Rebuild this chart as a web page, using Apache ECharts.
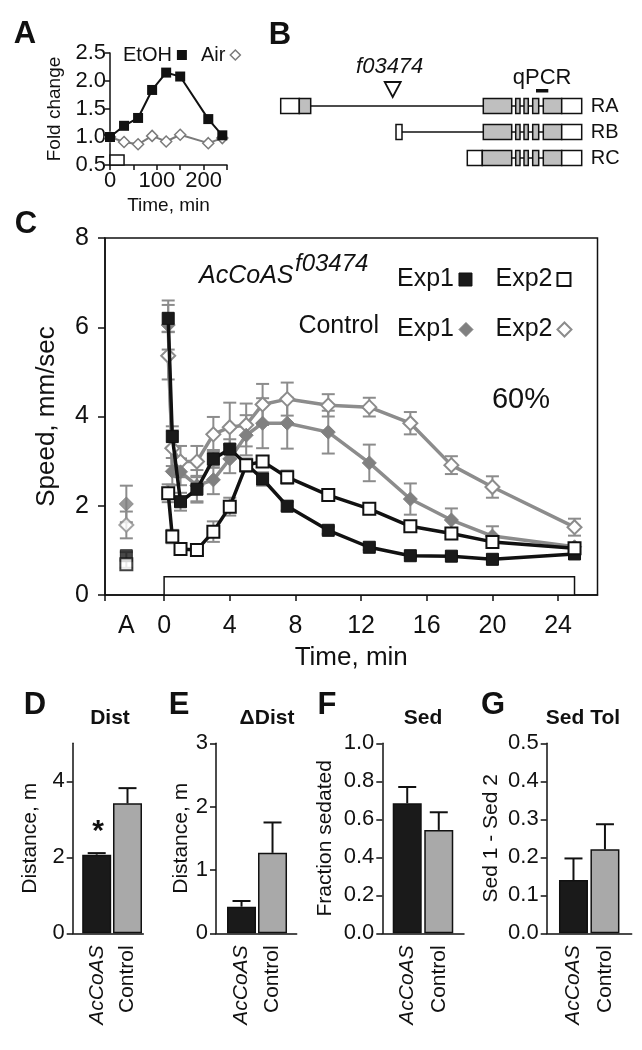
<!DOCTYPE html>
<html><head><meta charset="utf-8">
<script src="https://cdn.jsdelivr.net/npm/echarts@6/dist/echarts.min.js"></script>
<style>html,body{margin:0;padding:0;background:#fff}#c{width:642px;height:1050px}</style>
</head><body><div id="c"></div>
<script>
// ---------- DATA ----------
// Panel A
const aTime = [0, 30, 60, 90, 120, 150, 210, 240];
const aEtOH = [1.00, 1.20, 1.34, 1.84, 2.15, 2.08, 1.32, 1.03];
const aAir  = [1.00, 0.91, 0.87, 1.02, 0.92, 1.04, 0.89, 0.98];
const aExposure = [0, 30, 0.5, 0.68];   // start, end (min), bottom, top (fold)
const aXTicks = [0, 50, 100, 150, 200, 250];
const aXLabels = [0, 100, 200];

// Panel B (gene model, arbitrary genomic units)
const geneRows = ['RA', 'RB', 'RC'];
const geneExons = [ // [row, start, end, kind] kind 0 = UTR, 1 = coding
  [0, 0, 18.6, 0], [0, 18.6, 30, 1],
  [0, 202.6, 231, 1], [0, 235, 239.3, 1], [0, 243.3, 247.6, 1], [0, 252, 258, 1], [0, 262.6, 281, 1], [0, 281, 301, 0],
  [1, 115.3, 121.3, 0],
  [1, 202.6, 231, 1], [1, 235, 239.3, 1], [1, 243.3, 247.6, 1], [1, 252, 258, 1], [1, 262.6, 281, 1], [1, 281, 301, 0],
  [2, 186.6, 201.6, 0], [2, 201.6, 231, 1], [2, 235, 239.3, 1], [2, 243.3, 247.6, 1], [2, 252, 258, 1], [2, 262.6, 281, 1], [2, 281, 301, 0]
];
const geneIntrons = [[0, 30, 301], [1, 121.3, 301], [2, 201.6, 301]];
const insertionPos = 112;       // f03474
const qpcrAmplicon = [255.3, 267.6];

// Panel C
const cAPos = -2.3;
const cXTicks = [-3.6, 0, 4, 8, 12, 16, 20, 24];
const cXLabels = [-2.3, 0, 4, 8, 12, 16, 20, 24];
const cTimeMutExp1 = [0.25, 0.5, 1, 2, 3, 4, 6, 7.5, 10, 12.5, 15, 17.5, 20, 25];
const cMutExp1 = [6.2, 3.55, 2.09, 2.37, 3.05, 3.27, 2.60, 1.99, 1.45, 1.07, 0.88, 0.87, 0.80, 0.92];
const cMutExp1Err = [0.3, 0.23, 0.2, 0.3, 0.2, 0.22, 0.15, 0.1, 0.08, 0.06, 0.05, 0.05, 0.05, 0.05];
const cTime = [0.25, 0.5, 1, 2, 3, 4, 5, 6, 7.5, 10, 12.5, 15, 17.5, 20, 25];
const cMutExp2 = [2.28, 1.31, 1.03, 1.01, 1.42, 1.98, 2.91, 2.99, 2.64, 2.24, 1.93, 1.54, 1.38, 1.19, 1.05];
const cMutExp2Err = [0.2, 0.15, 0.1, 0.1, 0.23, 0.2, 0.15, 0.12, 0.15, 0.1, 0.1, 0.08, 0.06, 0.06, 0.05];
const cCtlExp1 = [6.05, 2.77, 2.76, 2.45, 2.58, 3.05, 3.58, 3.85, 3.85, 3.65, 2.96, 2.15, 1.68, 1.32, 1.08];
const cCtlExp1Err = [0.55, 0.3, 0.3, 0.35, 0.32, 0.32, 0.45, 0.56, 0.57, 0.48, 0.41, 0.35, 0.26, 0.22, 0.08];
const cCtlExp2 = [5.36, 3.29, 2.99, 2.99, 3.60, 3.76, 3.81, 4.27, 4.39, 4.25, 4.21, 3.85, 2.91, 2.42, 1.52];
const cCtlExp2Err = [0.53, 0.4, 0.35, 0.35, 0.39, 0.55, 0.48, 0.46, 0.37, 0.25, 0.21, 0.25, 0.2, 0.24, 0.19];
const cAValues = { mutExp1: [0.88, 0.08], mutExp2: [0.69, 0.08], ctlExp1: [2.04, 0.41], ctlExp2: [1.57, 0.30] };
const cExposure = [0, 25, 0.41];  // start, end (min), height

// Panels D-G
const barCats = ['AcCoAS', 'Control'];
const dDist = [2.07, 3.42], dDistErr = [0.04, 0.40];
const eDeltaDist = [0.42, 1.27], eDeltaDistErr = [0.09, 0.48];
const fSed = [0.684, 0.544], fSedErr = [0.086, 0.093];
const gSedTol = [0.14, 0.221], gSedTolErr = [0.057, 0.066];
const dTicks = [0, 2, 4];

// ---------- STYLE ----------
const FONT = "'Liberation Sans', Arial, sans-serif";
const INK = '#111';
const CGRAY = '#8c8c8c';
const AGRAY = '#7a7a7a';
const BARGRAY = '#a9a9a9';

const chart = echarts.init(document.getElementById('c'));

function zip(xs, ys) { return xs.map((x, i) => [x, ys[i]]); }
function zip3(xs, ys, es) { return xs.map((x, i) => [x, ys[i], es[i]]); }

function errRender(capHalf, color, lw, upOnly) {
  return function (params, api) {
    const x = api.value(0), y = api.value(1), e = api.value(2);
    const top = api.coord([x, y + e]);
    const bot = api.coord([x, upOnly ? y : y - e]);
    const st = { stroke: color, lineWidth: lw, fill: null };
    const ch = [
      { type: 'line', shape: { x1: top[0], y1: top[1], x2: bot[0], y2: bot[1] }, style: st },
      { type: 'line', shape: { x1: top[0] - capHalf, y1: top[1], x2: top[0] + capHalf, y2: top[1] }, style: st }
    ];
    if (!upOnly) ch.push({ type: 'line', shape: { x1: bot[0] - capHalf, y1: bot[1], x2: bot[0] + capHalf, y2: bot[1] }, style: st });
    return { type: 'group', children: ch };
  };
}

const axisLineStyle = { onZero: false, lineStyle: { color: INK, width: 1.5 } };
const tickStyle = { lineStyle: { color: INK, width: 1.5 } };

// ---------- GRIDS ----------
const grids = [
  { left: 110, top: 53, width: 117, height: 112 },                 // A
  { left: 280.7, top: 93, width: 305, height: 78 },                // B
  { left: 105, top: 238, width: 492.5, height: 357, show: true, borderColor: INK, borderWidth: 1.5 }, // C
  { left: 72.7, top: 743.3, width: 70.6, height: 190 },            // D
  { left: 216, top: 743.3, width: 80.7, height: 190 },             // E
  { left: 382.3, top: 743.3, width: 81.7, height: 190 },           // F
  { left: 546.7, top: 743.3, width: 85, height: 190 }              // G
];

const catLabel = {
  customValues: [1, 2], rotate: 90, margin: 12, color: INK, fontSize: 21, fontFamily: FONT,
  formatter: v => { const n = barCats[Math.round(v) - 1]; return n === 'AcCoAS' ? '{i|' + n + '}' : n; },
  rich: { i: { fontStyle: 'italic', fontSize: 21, fontFamily: FONT, color: INK } }
};
function barX(gi, min, max) {
  return { gridIndex: gi, type: 'value', min, max, axisLine: axisLineStyle, axisTick: { show: false },
    splitLine: { show: false }, axisLabel: catLabel };
}
function barY(gi, max, ticks, name, fmt, nameGap) {
  return { gridIndex: gi, type: 'value', min: 0, max, axisLine: { show: true, ...axisLineStyle },
    axisTick: { show: true, length: 6, customValues: ticks, ...tickStyle },
    axisLabel: { customValues: ticks, formatter: fmt, color: INK, fontSize: 22, fontFamily: FONT, margin: 8 },
    splitLine: { show: false }, name, nameLocation: 'middle', nameGap,
    nameTextStyle: { color: INK, fontSize: 21, fontFamily: FONT } };
}
const f1 = v => v.toFixed(1);
const f0 = v => String(Math.round(v));

const xAxis = [
  { gridIndex: 0, type: 'value', min: 0, max: 250, axisLine: axisLineStyle,
    axisTick: { length: 5, customValues: aXTicks, ...tickStyle },
    axisLabel: { customValues: aXLabels, color: INK, fontSize: 22, fontFamily: FONT, margin: 5 },
    splitLine: { show: false }, name: 'Time, min', nameLocation: 'middle', nameGap: 31,
    nameTextStyle: { color: INK, fontSize: 19, fontFamily: FONT } },
  { gridIndex: 1, type: 'value', min: 0, max: 305, show: false },
  { gridIndex: 2, type: 'value', min: -3.6, max: 26.4, axisLine: axisLineStyle,
    axisTick: { length: 6, customValues: cXTicks, ...tickStyle },
    axisLabel: { customValues: cXLabels, formatter: v => (v < 0 ? 'A' : String(v)), color: INK, fontSize: 25, fontFamily: FONT, margin: 19 },
    splitLine: { show: false }, name: 'Time, min', nameLocation: 'middle', nameGap: 50,
    nameTextStyle: { color: INK, fontSize: 26, fontFamily: FONT } },
  barX(3, 0.221, 2.513),
  barX(4, 0.177, 2.78),
  barX(5, 0.21, 2.80),
  barX(6, 0.149, 2.85)
];
const yAxis = [
  { gridIndex: 0, type: 'value', min: 0.5, max: 2.5, interval: 0.5, axisLine: { show: true, ...axisLineStyle },
    axisTick: { length: 5, ...tickStyle },
    axisLabel: { formatter: f1, color: INK, fontSize: 22, fontFamily: FONT, margin: 4 },
    splitLine: { show: false }, name: 'Fold change', nameLocation: 'middle', nameGap: 46,
    nameTextStyle: { color: INK, fontSize: 19, fontFamily: FONT } },
  { gridIndex: 1, type: 'category', data: geneRows, inverse: true, position: 'right',
    axisLine: { show: false }, axisTick: { show: false }, splitLine: { show: false },
    axisLabel: { interval: 0, color: INK, fontSize: 20, fontFamily: FONT, margin: 5 } },
  { gridIndex: 2, type: 'value', min: 0, max: 8, interval: 2, axisLine: { show: true, ...axisLineStyle },
    axisTick: { length: 7, ...tickStyle },
    axisLabel: { color: INK, fontSize: 25, fontFamily: FONT, margin: 16 },
    splitLine: { show: false }, name: 'Speed, mm/sec', nameLocation: 'middle', nameGap: 45,
    nameTextStyle: { color: INK, fontSize: 26, fontFamily: FONT } },
  barY(3, 5, dTicks, 'Distance, m', f0, 32),
  barY(4, 3, [0, 1, 2, 3], 'Distance, m', f0, 24),
  barY(5, 1, [0, 0.2, 0.4, 0.6, 0.8, 1.0], 'Fraction sedated', f1, 47),
  barY(6, 0.5, [0, 0.1, 0.2, 0.3, 0.4, 0.5], 'Sed 1 - Sed 2', f1, 45)
];

// ---------- SERIES ----------
const series = [];
// Panel A
series.push({ type: 'custom', xAxisIndex: 0, yAxisIndex: 0, z: 1, silent: true,
  data: [aExposure],
  renderItem: (p, api) => {
    const a = api.coord([api.value(0), api.value(3)]);
    const b = api.coord([api.value(1), api.value(2)]);
    return { type: 'rect', shape: { x: a[0], y: a[1], width: b[0] - a[0], height: b[1] - a[1] },
      style: { fill: '#fff', stroke: INK, lineWidth: 1.5 } };
  } });
series.push({ name: 'EtOH', type: 'line', xAxisIndex: 0, yAxisIndex: 0, data: zip(aTime, aEtOH), z: 4,
  symbol: 'rect', symbolSize: 10, lineStyle: { color: INK, width: 2 }, itemStyle: { color: INK } });
series.push({ name: 'Air', type: 'line', xAxisIndex: 0, yAxisIndex: 0, data: zip(aTime, aAir), z: 3,
  symbol: 'diamond', symbolSize: 11, lineStyle: { color: AGRAY, width: 2 },
  itemStyle: { color: '#fff', borderColor: AGRAY, borderWidth: 1.5 } });

// Panel B
series.push({ type: 'custom', xAxisIndex: 1, yAxisIndex: 1, z: 1, silent: true,
  data: geneIntrons, encode: { x: [1, 2], y: 0 },
  renderItem: (p, api) => {
    const s = api.coord([api.value(1), api.value(0)]);
    const e = api.coord([api.value(2), api.value(0)]);
    return { type: 'line', shape: { x1: s[0], y1: s[1], x2: e[0], y2: e[1] }, style: { stroke: INK, lineWidth: 1.5 } };
  } });
series.push({ type: 'custom', xAxisIndex: 1, yAxisIndex: 1, z: 2, silent: true,
  data: geneExons, encode: { x: [1, 2], y: 0 },
  renderItem: (p, api) => {
    const s = api.coord([api.value(1), api.value(0)]);
    const e = api.coord([api.value(2), api.value(0)]);
    const h = 15;
    return { type: 'rect', shape: { x: s[0], y: s[1] - h / 2, width: e[0] - s[0], height: h },
      style: { fill: api.value(3) ? '#bfbfbf' : '#fff', stroke: INK, lineWidth: 1.5 } };
  } });
series.push({ type: 'custom', xAxisIndex: 1, yAxisIndex: 1, z: 2, silent: true,
  data: [[insertionPos, 0]],
  renderItem: (p, api) => {
    const c = api.coord([api.value(0), api.value(1)]);
    return { type: 'group', children: [
      { type: 'polygon', shape: { points: [[c[0] - 8, c[1] - 24], [c[0] + 8, c[1] - 24], [c[0], c[1] - 9]] },
        style: { fill: '#fff', stroke: INK, lineWidth: 1.8 } },
      { type: 'text', style: { text: 'f03474', x: c[0] - 3, y: c[1] - 39, textAlign: 'center', textVerticalAlign: 'middle',
        fontSize: 22, fontStyle: 'italic', fontFamily: FONT, fill: INK } }
    ] };
  } });
series.push({ type: 'custom', xAxisIndex: 1, yAxisIndex: 1, z: 2, silent: true,
  data: [[qpcrAmplicon[0], qpcrAmplicon[1], 0]], encode: { x: [0, 1], y: 2 },
  renderItem: (p, api) => {
    const s = api.coord([api.value(0), api.value(2)]);
    const e = api.coord([api.value(1), api.value(2)]);
    return { type: 'group', children: [
      { type: 'rect', shape: { x: s[0], y: s[1] - 17, width: e[0] - s[0], height: 3.5 }, style: { fill: INK } },
      { type: 'text', style: { text: 'qPCR', x: (s[0] + e[0]) / 2, y: s[1] - 28, textAlign: 'center', textVerticalAlign: 'middle',
        fontSize: 22, fontFamily: FONT, fill: INK } }
    ] };
  } });

// Panel C
series.push({ type: 'custom', xAxisIndex: 2, yAxisIndex: 2, z: 1, silent: true,
  data: [cExposure],
  renderItem: (p, api) => {
    const a = api.coord([api.value(0), api.value(2)]);
    const b = api.coord([api.value(1), 0]);
    return { type: 'rect', shape: { x: a[0], y: a[1], width: b[0] - a[0], height: b[1] - a[1] },
      style: { fill: '#fff', stroke: INK, lineWidth: 1.5 } };
  } });
const errC = errRender(6.5, CGRAY, 2, false);
function addErr(times, vals, errs, z) {
  series.push({ type: 'custom', xAxisIndex: 2, yAxisIndex: 2, z, silent: true,
    data: zip3(times, vals, errs), renderItem: errC });
}
addErr(cTime, cCtlExp2, cCtlExp2Err, 2);
addErr(cTime, cCtlExp1, cCtlExp1Err, 2);
addErr(cTime, cMutExp2, cMutExp2Err, 2);
addErr(cTimeMutExp1, cMutExp1, cMutExp1Err, 2);
addErr([cAPos, cAPos, cAPos, cAPos],
  [cAValues.ctlExp1[0], cAValues.ctlExp2[0], cAValues.mutExp1[0], cAValues.mutExp2[0]],
  [cAValues.ctlExp1[1], cAValues.ctlExp2[1], cAValues.mutExp1[1], cAValues.mutExp2[1]], 2);

const sty = {
  'Control Exp2': { symbol: 'diamond', size: 14, line: CGRAY, item: { color: '#fff', borderColor: CGRAY, borderWidth: 2 } },
  'Control Exp1': { symbol: 'diamond', size: 14, line: CGRAY, item: { color: '#808080', borderColor: '#808080', borderWidth: 1 } },
  'AcCoAS Exp2': { symbol: 'rect', size: 12, line: INK, item: { color: '#fff', borderColor: INK, borderWidth: 2 } },
  'AcCoAS Exp1': { symbol: 'rect', size: 12, line: INK, item: { color: '#1a1a1a', borderColor: INK, borderWidth: 1 } }
};
function addLine(name, times, vals, aVal, z) {
  const s = sty[name];
  series.push({ name, type: 'line', xAxisIndex: 2, yAxisIndex: 2, z, data: zip(times, vals),
    symbol: s.symbol, symbolSize: s.size, showAllSymbol: true,
    lineStyle: { color: s.line, width: 3.5 }, itemStyle: s.item });
  series.push({ type: 'scatter', xAxisIndex: 2, yAxisIndex: 2, z, data: [[cAPos, aVal]],
    symbol: s.symbol, symbolSize: s.size, itemStyle: s.item, silent: true });
}
addLine('Control Exp2', cTime, cCtlExp2, cAValues.ctlExp2[0], 3);
addLine('Control Exp1', cTime, cCtlExp1, cAValues.ctlExp1[0], 3);
addLine('AcCoAS Exp1', cTimeMutExp1, cMutExp1, cAValues.mutExp1[0], 4);
addLine('AcCoAS Exp2', cTime, cMutExp2, cAValues.mutExp2[0], 5);

// Panels D-G
const errBar = errRender(9, INK, 2, true);
function addBars(gi, vals, errs) {
  series.push({ type: 'bar', xAxisIndex: gi, yAxisIndex: gi, barWidth: 29, z: 2,
    data: [
      { value: [1, vals[0]], itemStyle: { color: '#1a1a1a' } },
      { value: [2, vals[1]], itemStyle: { color: BARGRAY } }
    ],
    itemStyle: { borderColor: INK, borderWidth: 1.5 } });
  series.push({ type: 'custom', xAxisIndex: gi, yAxisIndex: gi, z: 3, silent: true,
    data: [[1, vals[0], errs[0]], [2, vals[1], errs[1]]], renderItem: errBar });
}
addBars(3, dDist, dDistErr);
addBars(4, eDeltaDist, eDeltaDistErr);
addBars(5, fSed, fSedErr);
addBars(6, gSedTol, gSedTolErr);

// ---------- LEGENDS ----------
const legendText = { color: INK, fontFamily: FONT };
const legend = [
  { left: 118, top: 40, align: 'right', orient: 'horizontal', itemWidth: 10, itemHeight: 10, itemGap: 14,
    selectedMode: false, textStyle: { ...legendText, fontSize: 20 },
    data: [
      { name: 'EtOH', icon: 'rect', itemStyle: { color: INK, borderWidth: 0 } },
      { name: 'Air', icon: 'diamond', itemStyle: { color: '#fff', borderColor: AGRAY, borderWidth: 1.5 } }
    ] },
  { left: 392, top: 262, align: 'right', itemWidth: 13, itemHeight: 13, itemGap: 23,
    selectedMode: false, textStyle: { ...legendText, fontSize: 25 }, formatter: n => n.split(' ')[1],
    data: [
      { name: 'AcCoAS Exp1', icon: 'rect', itemStyle: { color: '#1a1a1a', borderColor: INK, borderWidth: 1 } },
      { name: 'AcCoAS Exp2', icon: 'rect', itemStyle: { color: '#fff', borderColor: INK, borderWidth: 2 } }
    ] },
  { left: 392, top: 312, align: 'right', itemWidth: 14, itemHeight: 14, itemGap: 22,
    selectedMode: false, textStyle: { ...legendText, fontSize: 25 }, formatter: n => n.split(' ')[1],
    data: [
      { name: 'Control Exp1', icon: 'diamond', itemStyle: { color: '#808080', borderColor: '#808080', borderWidth: 1 } },
      { name: 'Control Exp2', icon: 'diamond', itemStyle: { color: '#fff', borderColor: CGRAY, borderWidth: 2 } }
    ] }
];

// ---------- TEXT ----------
function txt(text, x, y, o) {
  return { type: 'text', x, y, z: 100, silent: true,
    style: Object.assign({ text, fill: INK, fontFamily: FONT, fontSize: 21, textAlign: 'center', textVerticalAlign: 'middle' }, o || {}) };
}
const bold = (s) => ({ fontWeight: 'bold', fontSize: s });
const graphic = [
  txt('A', 25, 34, bold(31)), txt('B', 280, 35, bold(31)), txt('C', 26, 224, bold(31)),
  txt('D', 35, 705, bold(31)), txt('E', 179, 705, bold(31)), txt('F', 327, 705, bold(31)), txt('G', 493, 705, bold(31)),
  txt('Dist', 110, 718, bold(21)), txt('\u0394Dist', 267, 718, bold(21)),
  txt('Sed', 423, 718, bold(21)), txt('Sed Tol', 583, 718, bold(21)),
  txt('*', 98, 832, bold(30)),
  txt('AcCoAS', 199, 276, { fontSize: 25, fontStyle: 'italic', textAlign: 'left' }),
  txt('f03474', 295, 264, { fontSize: 24, fontStyle: 'italic', textAlign: 'left' }),
  txt('Control', 379, 326, { fontSize: 25, textAlign: 'right' }),
  txt('60%', 521, 400, { fontSize: 29 })
];

chart.setOption({
  animation: false,
  backgroundColor: '#fff',
  textStyle: { fontFamily: FONT },
  grid: grids, xAxis, yAxis, series, legend,
  graphic: { elements: graphic }
});
</script></body></html>
